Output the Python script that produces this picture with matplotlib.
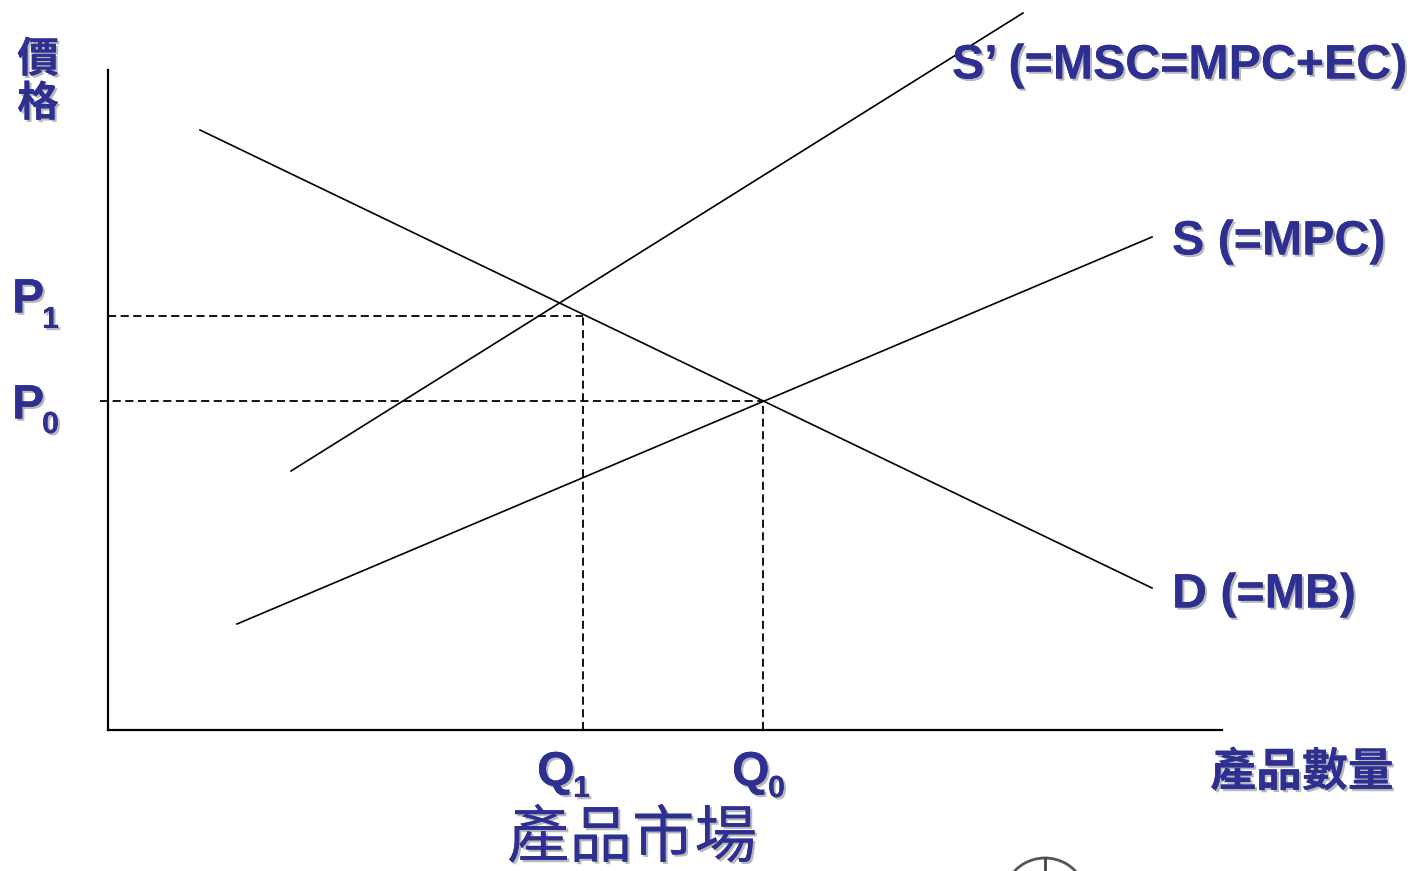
import matplotlib
matplotlib.use("Agg")
import matplotlib.pyplot as plt
import matplotlib.patheffects as pe
from matplotlib.patches import Arc
from matplotlib.lines import Line2D

# quantity / price in chart units (origin at the axes corner)
demand_q = [0.92, 10.44]
demand_p = [6.00, 1.42]
supply_q = [1.29, 10.44]
supply_p = [1.06, 4.93]
social_q = [1.83, 9.15]
social_p = [2.59, 7.17]

# equilibria: index 0 -> P0/Q0, index 1 -> P1/Q1
eq_p = [3.29, 4.14]
eq_q = [6.55, 4.75]
eq_sub = ["0", "1"]

curve_labels = ["S\u2019 (=MSC=MPC+EC)", "S (=MPC)", "D (=MB)"]
curve_label_pos = [(8.44, 6.64), (10.64, 4.88), (10.64, 1.35)]

blue = "#2d3091"
latin = "Liberation Sans"
cjk = ["Noto Sans CJK TC", "DejaVu Sans"]
shadow = [pe.withSimplePatchShadow(offset=(1.6, -1.6), shadow_rgbFace="#9a9a9a", alpha=0.7),
          pe.Normal()]

fig = plt.figure(figsize=(14.1, 8.71), dpi=100)
ax = fig.add_axes([108/1410, (871-730)/871, (1222-108)/1410, (730-70)/871])
ax.set_xlim(0, 11.14)
ax.set_ylim(0, 6.6)
for s in ["top", "right"]:
    ax.spines[s].set_visible(False)
for s in ["left", "bottom"]:
    ax.spines[s].set_linewidth(1.6)
ax.set_xticks([])
ax.set_yticks([])

for q, p in [(demand_q, demand_p), (supply_q, supply_p), (social_q, social_p)]:
    ax.plot(q, p, color="black", lw=1.2, clip_on=False)

# dashed guides
starts = [-0.08, 0.0]
for i in range(2):
    ax.plot([starts[i], eq_q[i]], [eq_p[i], eq_p[i]], color="black", lw=1.3,
            dashes=(4.5, 2.5), clip_on=False)
    ax.plot([eq_q[i], eq_q[i]], [0, eq_p[i]], color="black", lw=1.3,
            dashes=(4.5, 2.5), clip_on=False)

# curve labels
for txt, (x, y) in zip(curve_labels, curve_label_pos):
    ax.text(x, y, txt, fontsize=34.8, fontweight="bold", family=latin, color=blue,
            ha="left", va="center", path_effects=shadow, clip_on=False)

# price labels
p_txt_y = [3.24, 4.30]
p_sub_y = [3.05, 4.10]
for i in range(2):
    ax.text(-0.96, p_txt_y[i], "P", fontsize=34.8, fontweight="bold", family=latin,
            color=blue, ha="left", va="center", path_effects=shadow)
    ax.text(-0.66, p_sub_y[i], eq_sub[i], fontsize=22, fontweight="bold",
            family=latin, color=blue, ha="left", va="center", path_effects=shadow)

# quantity labels
q_left = [6.24, 4.29]
for i in range(2):
    ax.text(q_left[i], -0.43, "Q", fontsize=34.8, fontweight="bold", family=latin,
            color=blue, ha="left", va="center", path_effects=shadow)
    ax.text(q_left[i] + 0.36, -0.59, eq_sub[i], fontsize=22, fontweight="bold",
            family=latin, color=blue, ha="left", va="center", path_effects=shadow)

# axis titles (CJK)
fig.text(38/1410, 1 - 60/871, "價", fontsize=30, fontweight="bold", family=cjk,
         color=blue, ha="center", va="center", path_effects=shadow)
fig.text(38/1410, 1 - 104/871, "格", fontsize=30, fontweight="bold", family=cjk,
         color=blue, ha="center", va="center", path_effects=shadow)
fig.text(1302/1410, 1 - 773/871, "產品數量", fontsize=33, fontweight="bold", family=cjk,
         color=blue, ha="center", va="center", path_effects=shadow)
fig.text(632/1410, 1 - 839/871, "產品市場", fontsize=45, fontweight="light", family=cjk,
         color=blue, ha="center", va="center", path_effects=shadow)

# partially visible icon at bottom edge
fig.add_artist(Arc((10.45, -0.29), 0.84, 0.84, theta1=30, theta2=150,
                   transform=fig.dpi_scale_trans, color="#555555", lw=2))
fig.add_artist(Line2D([10.45, 10.45], [0.0, 0.13], transform=fig.dpi_scale_trans,
                      color="#444444", lw=2))

fig.savefig("out.png", dpi=100, facecolor="white")
